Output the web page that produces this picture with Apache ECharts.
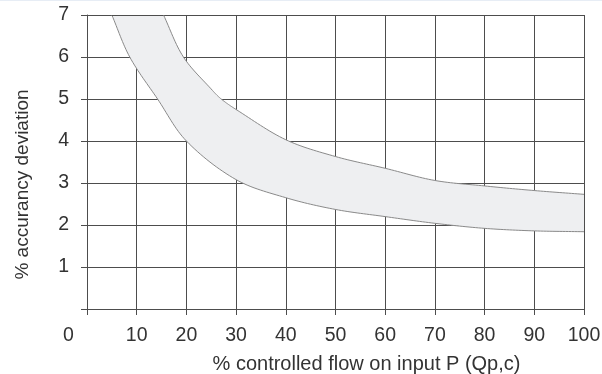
<!DOCTYPE html>
<html>
<head>
<meta charset="utf-8">
<script src="https://cdn.jsdelivr.net/npm/echarts@6/dist/echarts.min.js"></script>
<style>
  html, body { margin: 0; padding: 0; background: #fff; }
  #chart { width: 602px; height: 374px; }
  #edge { position: absolute; left: 0; top: 0; width: 602px; height: 1px; background: #e7edf5; }
</style>
</head>
<body>
<div id="chart"></div>
<div id="edge"></div>
<script>
// Axis ticks
const flowTicks = [0, 10, 20, 30, 40, 50, 60, 70, 80, 90, 100];
const deviationTicks = [0, 1, 2, 3, 4, 5, 6, 7];

// Upper boundary of the accuracy band (flow %, deviation %)
const upperFlow = [15.4, 19.4, 25.2, 27.0, 30, 40, 50, 60, 70, 80, 90, 100];
const upperDev  = [7.0, 6.0, 5.21, 5.0, 4.75, 4.03, 3.63, 3.35, 3.06, 2.93, 2.82, 2.73];

// Lower boundary of the accuracy band
const lowerFlow = [5.0, 8.6, 14.2, 20, 30, 40, 50, 60, 70, 80, 90, 100];
const lowerDev  = [7.0, 6.0, 5.0, 4.0, 3.08, 2.65, 2.37, 2.2, 2.04, 1.92, 1.86, 1.84];

const GRID = '#4d4d4d';
const TEXT = '#333';
const FONT = 'Liberation Sans, Arial, sans-serif';

// Chord-length cubic spline through pixel points, sampled into a dense polyline
function smoothPath(pts, steps) {
  const n = pts.length;
  const dist = (a, b) => Math.hypot(b[0] - a[0], b[1] - a[1]);
  const tan = [];
  for (let i = 0; i < n; i++) {
    if (i === 0) {
      const d = dist(pts[0], pts[1]);
      tan.push([(pts[1][0] - pts[0][0]) / d, (pts[1][1] - pts[0][1]) / d]);
    } else if (i === n - 1) {
      const d = dist(pts[n - 2], pts[n - 1]);
      tan.push([(pts[n - 1][0] - pts[n - 2][0]) / d, (pts[n - 1][1] - pts[n - 2][1]) / d]);
    } else {
      const d = dist(pts[i - 1], pts[i]) + dist(pts[i], pts[i + 1]);
      tan.push([(pts[i + 1][0] - pts[i - 1][0]) / d, (pts[i + 1][1] - pts[i - 1][1]) / d]);
    }
  }
  const out = [];
  for (let i = 0; i < n - 1; i++) {
    const p1 = pts[i], p2 = pts[i + 1];
    const h = dist(p1, p2) / 3;
    const c1 = [p1[0] + tan[i][0] * h, p1[1] + tan[i][1] * h];
    const c2 = [p2[0] - tan[i + 1][0] * h, p2[1] - tan[i + 1][1] * h];
    for (let s = 0; s < steps; s++) {
      const t = s / steps, u = 1 - t;
      const a = u * u * u, b = 3 * u * u * t, c = 3 * u * t * t, d = t * t * t;
      out.push([a * p1[0] + b * c1[0] + c * c2[0] + d * p2[0],
                a * p1[1] + b * c1[1] + c * c2[1] + d * p2[1]]);
    }
  }
  out.push(pts[n - 1]);
  return out;
}

const crisp = v => Math.round(v) + 0.5;

function renderBand(params, api) {
  const up = smoothPath(upperFlow.map((x, i) => api.coord([x, upperDev[i]])), 16);
  const lo = smoothPath(lowerFlow.map((x, i) => api.coord([x, lowerDev[i]])), 16);
  const area = up.concat(lo.slice().reverse());
  // Grid edges that run over the band (top and right border)
  const topA = api.coord([lowerFlow[0], lowerDev[0]]);
  const topB = api.coord([upperFlow[0], upperDev[0]]);
  const rightA = api.coord([upperFlow[upperFlow.length - 1], upperDev[upperDev.length - 1]]);
  const rightB = api.coord([lowerFlow[lowerFlow.length - 1], lowerDev[lowerDev.length - 1]]);
  return {
    type: 'group',
    children: [
      { type: 'polygon', shape: { points: area }, style: { fill: '#eeeff1', stroke: null } },
      { type: 'polyline', shape: { points: up }, style: { stroke: '#8a8a8a', lineWidth: 1, fill: null } },
      { type: 'polyline', shape: { points: lo }, style: { stroke: '#8a8a8a', lineWidth: 1, fill: null } },
      { type: 'line', shape: { x1: topA[0], y1: crisp(topA[1] - 0.5), x2: topB[0], y2: crisp(topB[1] - 0.5) },
        style: { stroke: GRID, lineWidth: 1 } },
      { type: 'line', shape: { x1: crisp(rightA[0] - 0.5), y1: rightA[1], x2: crisp(rightB[0] - 0.5), y2: rightB[1] },
        style: { stroke: GRID, lineWidth: 1 } }
    ]
  };
}

const chart = echarts.init(document.getElementById('chart'), null, { renderer: 'canvas' });

chart.setOption({
  animation: false,
  backgroundColor: '#fff',
  grid: { left: 87, right: 18, top: 15, bottom: 65, containLabel: false, outerBoundsMode: 'none' },
  xAxis: {
    type: 'value',
    min: flowTicks[0],
    max: flowTicks[flowTicks.length - 1],
    interval: flowTicks[1] - flowTicks[0],
    name: '% controlled flow on input P (Qp,c)',
    nameLocation: 'middle',
    nameGap: 45,
    nameTextStyle: { fontSize: 20, color: TEXT, fontFamily: FONT, padding: [0, 0, 0, 62] },
    axisLine: { show: true, lineStyle: { color: GRID, width: 1 } },
    axisTick: { show: true, length: 6, inside: false, lineStyle: { color: GRID, width: 1 } },
    splitLine: { show: true, lineStyle: { color: GRID, width: 1 } },
    axisLabel: {
      fontSize: 19.5, color: TEXT, fontFamily: FONT, margin: 17,
      formatter: v => (v === 0 ? '{z|0}' : String(v)),
      rich: { z: { fontSize: 19.5, color: TEXT, fontFamily: FONT, padding: [0, 37, 0, 0] } }
    }
  },
  yAxis: {
    type: 'value',
    min: deviationTicks[0],
    max: deviationTicks[deviationTicks.length - 1],
    interval: deviationTicks[1] - deviationTicks[0],
    name: '% accurancy deviation',
    nameLocation: 'middle',
    nameGap: 55,
    nameRotate: 90,
    nameTextStyle: { fontSize: 19, color: TEXT, fontFamily: FONT, padding: [0, 45, 0, 0] },
    axisLine: { show: true, lineStyle: { color: GRID, width: 1 } },
    axisTick: { show: true, length: 6, inside: false, lineStyle: { color: GRID, width: 1 } },
    splitLine: { show: true, lineStyle: { color: GRID, width: 1 } },
    axisLabel: {
      fontSize: 19.5, color: TEXT, fontFamily: FONT, margin: 18,
      formatter: v => (v === 0 ? '' : String(v))
    }
  },
  series: [{
    type: 'custom',
    coordinateSystem: 'cartesian2d',
    silent: true,
    clip: false,
    data: [[upperFlow[0], upperDev[0]]],
    renderItem: renderBand,
    z: 3
  }]
});
</script>
</body>
</html>
